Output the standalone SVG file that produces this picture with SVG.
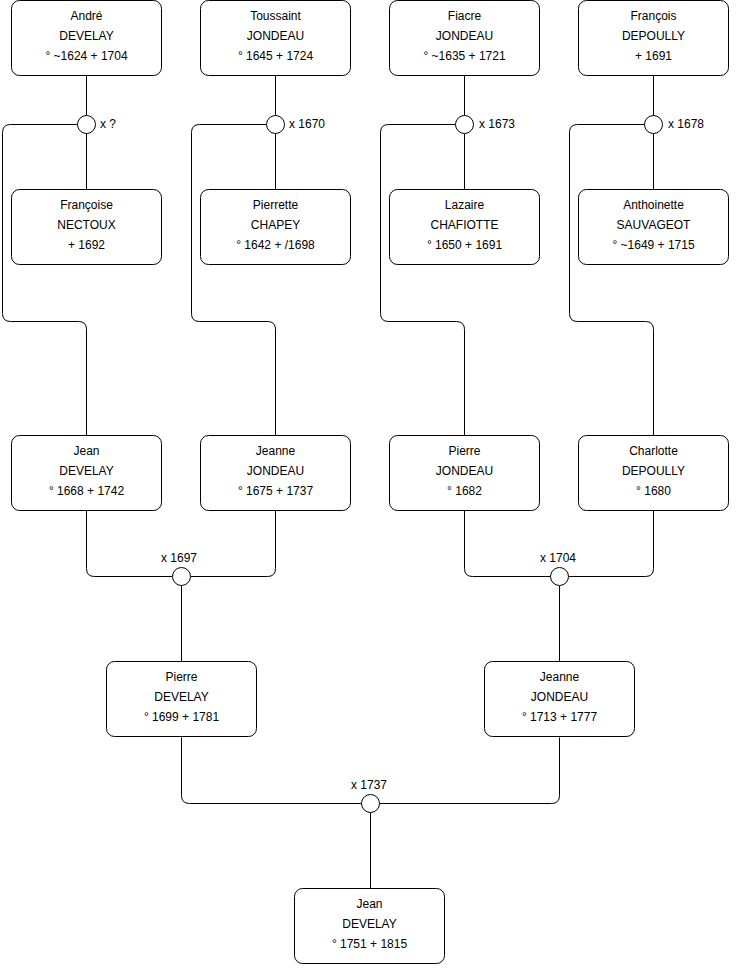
<svg xmlns="http://www.w3.org/2000/svg" width="740" height="975" viewBox="0 0 740 975">
<style>
.box{fill:#fff;stroke:#000;stroke-width:1}
.t{font-family:"Liberation Sans",Arial,sans-serif;font-size:12px;fill:#000;text-anchor:middle}
.l{font-family:"Liberation Sans",Arial,sans-serif;font-size:12px;fill:#000}
.c{fill:#fff;stroke:#000;stroke-width:1}
.e{fill:none;stroke:#000;stroke-width:1}
</style>
<rect width="740" height="975" fill="#fff"/>
<g id="connectors">
<path class="e" d="M86.5 75.5V189.5"/>
<path class="e" d="M77.5 124.5H10.5Q2.5 124.5 2.5 132.5V313.5Q2.5 321.5 10.5 321.5H78.5Q86.5 321.5 86.5 329.5V435.5"/>
<path class="e" d="M275.5 75.5V189.5"/>
<path class="e" d="M266.5 124.5H199.5Q191.5 124.5 191.5 132.5V313.5Q191.5 321.5 199.5 321.5H267.5Q275.5 321.5 275.5 329.5V435.5"/>
<path class="e" d="M464.5 75.5V189.5"/>
<path class="e" d="M455.5 124.5H388.5Q380.5 124.5 380.5 132.5V313.5Q380.5 321.5 388.5 321.5H456.5Q464.5 321.5 464.5 329.5V435.5"/>
<path class="e" d="M653.5 75.5V189.5"/>
<path class="e" d="M644.5 124.5H577.5Q569.5 124.5 569.5 132.5V313.5Q569.5 321.5 577.5 321.5H645.5Q653.5 321.5 653.5 329.5V435.5"/>
<path class="e" d="M86.5 510.5V568.5Q86.5 576.5 94.5 576.5H172.5"/>
<path class="e" d="M275.5 510.5V568.5Q275.5 576.5 267.5 576.5H190.5"/>
<path class="e" d="M181.5 585.5V661.5"/>
<path class="e" d="M464.5 510.5V568.5Q464.5 576.5 472.5 576.5H550.5"/>
<path class="e" d="M653.5 510.5V568.5Q653.5 576.5 645.5 576.5H568.5"/>
<path class="e" d="M559.5 585.5V661.5"/>
<path class="e" d="M181.5 737.5V795.5Q181.5 803.5 189.5 803.5H361.5"/>
<path class="e" d="M559.5 737.5V795.5Q559.5 803.5 551.5 803.5H379.5"/>
<path class="e" d="M370.5 812.5V888.5"/>
</g>
<g id="u1"><circle class="c" cx="86.5" cy="124.5" r="9"/><text class="l" x="100" y="128">x ?</text></g>
<g id="u2"><circle class="c" cx="275.5" cy="124.5" r="9"/><text class="l" x="289" y="128">x 1670</text></g>
<g id="u3"><circle class="c" cx="464.5" cy="124.5" r="9"/><text class="l" x="479" y="128">x 1673</text></g>
<g id="u4"><circle class="c" cx="653.5" cy="124.5" r="9"/><text class="l" x="668" y="128">x 1678</text></g>
<g id="u5"><circle class="c" cx="181.5" cy="576.5" r="9"/><text class="t" x="179" y="562">x 1697</text></g>
<g id="u6"><circle class="c" cx="559.5" cy="576.5" r="9"/><text class="t" x="558" y="562">x 1704</text></g>
<g id="u7"><circle class="c" cx="370.5" cy="803.5" r="9"/><text class="t" x="369" y="789">x 1737</text></g>
<g id="n1"><rect class="box" x="11.5" y="0.5" width="150" height="75" rx="8"/><text class="t" x="86.5" y="20">André</text><text class="t" x="86.5" y="40">DEVELAY</text><text class="t" x="86.5" y="60">° ~1624 + 1704</text></g>
<g id="n2"><rect class="box" x="200.5" y="0.5" width="150" height="75" rx="8"/><text class="t" x="275.5" y="20">Toussaint</text><text class="t" x="275.5" y="40">JONDEAU</text><text class="t" x="275.5" y="60">° 1645 + 1724</text></g>
<g id="n3"><rect class="box" x="389.5" y="0.5" width="150" height="75" rx="8"/><text class="t" x="464.5" y="20">Fiacre</text><text class="t" x="464.5" y="40">JONDEAU</text><text class="t" x="464.5" y="60">° ~1635 + 1721</text></g>
<g id="n4"><rect class="box" x="578.5" y="0.5" width="150" height="75" rx="8"/><text class="t" x="653.5" y="20">François</text><text class="t" x="653.5" y="40">DEPOULLY</text><text class="t" x="653.5" y="60">+ 1691</text></g>
<g id="n5"><rect class="box" x="11.5" y="189.5" width="150" height="75" rx="8"/><text class="t" x="86.5" y="209">Françoise</text><text class="t" x="86.5" y="229">NECTOUX</text><text class="t" x="86.5" y="249">+ 1692</text></g>
<g id="n6"><rect class="box" x="200.5" y="189.5" width="150" height="75" rx="8"/><text class="t" x="275.5" y="209">Pierrette</text><text class="t" x="275.5" y="229">CHAPEY</text><text class="t" x="275.5" y="249">° 1642 + /1698</text></g>
<g id="n7"><rect class="box" x="389.5" y="189.5" width="150" height="75" rx="8"/><text class="t" x="464.5" y="209">Lazaire</text><text class="t" x="464.5" y="229">CHAFIOTTE</text><text class="t" x="464.5" y="249">° 1650 + 1691</text></g>
<g id="n8"><rect class="box" x="578.5" y="189.5" width="150" height="75" rx="8"/><text class="t" x="653.5" y="209">Anthoinette</text><text class="t" x="653.5" y="229">SAUVAGEOT</text><text class="t" x="653.5" y="249">° ~1649 + 1715</text></g>
<g id="n9"><rect class="box" x="11.5" y="435.5" width="150" height="75" rx="8"/><text class="t" x="86.5" y="455">Jean</text><text class="t" x="86.5" y="475">DEVELAY</text><text class="t" x="86.5" y="495">° 1668 + 1742</text></g>
<g id="n10"><rect class="box" x="200.5" y="435.5" width="150" height="75" rx="8"/><text class="t" x="275.5" y="455">Jeanne</text><text class="t" x="275.5" y="475">JONDEAU</text><text class="t" x="275.5" y="495">° 1675 + 1737</text></g>
<g id="n11"><rect class="box" x="389.5" y="435.5" width="150" height="75" rx="8"/><text class="t" x="464.5" y="455">Pierre</text><text class="t" x="464.5" y="475">JONDEAU</text><text class="t" x="464.5" y="495">° 1682</text></g>
<g id="n12"><rect class="box" x="578.5" y="435.5" width="150" height="75" rx="8"/><text class="t" x="653.5" y="455">Charlotte</text><text class="t" x="653.5" y="475">DEPOULLY</text><text class="t" x="653.5" y="495">° 1680</text></g>
<g id="n13"><rect class="box" x="106.5" y="661.5" width="150" height="75" rx="8"/><text class="t" x="181.5" y="681">Pierre</text><text class="t" x="181.5" y="701">DEVELAY</text><text class="t" x="181.5" y="721">° 1699 + 1781</text></g>
<g id="n14"><rect class="box" x="484.5" y="661.5" width="150" height="75" rx="8"/><text class="t" x="559.5" y="681">Jeanne</text><text class="t" x="559.5" y="701">JONDEAU</text><text class="t" x="559.5" y="721">° 1713 + 1777</text></g>
<g id="n15"><rect class="box" x="294.5" y="888.5" width="150" height="75" rx="8"/><text class="t" x="369.5" y="908">Jean</text><text class="t" x="369.5" y="928">DEVELAY</text><text class="t" x="369.5" y="948">° 1751 + 1815</text></g>
</svg>
